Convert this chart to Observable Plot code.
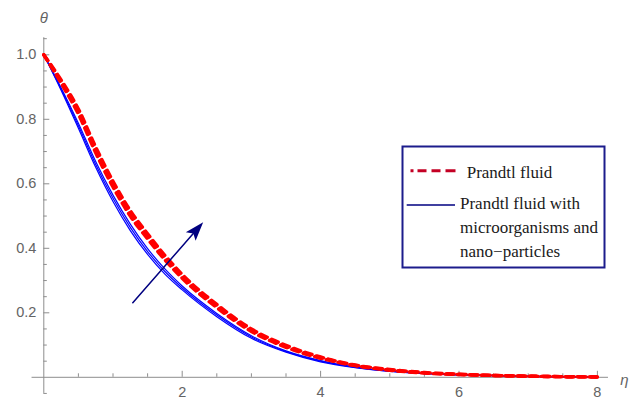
<!DOCTYPE html>
<html><head><meta charset="utf-8">
<script src="https://cdn.jsdelivr.net/npm/d3@7"></script>
<script src="https://cdn.jsdelivr.net/npm/@observablehq/plot@0.6"></script>
<style>
body{margin:0;background:#fff;}
#wrap{position:relative;width:640px;height:407px;overflow:hidden;}
#legend{position:absolute;left:401px;top:145px;}
</style></head><body><div id="wrap"></div>
<script>
// η grid and θ(η) values
const eta = [0, 0.25, 0.5, 0.75, 1, 1.25, 1.5, 1.75, 2, 2.5, 3, 3.5, 4, 4.5, 5, 5.5, 6, 7, 8];
// Prandtl fluid (three red dashed curves)
const prandtlA = [1.0, 0.912, 0.816, 0.696, 0.590, 0.500, 0.429, 0.364, 0.307, 0.216, 0.142, 0.093, 0.059, 0.036, 0.022, 0.013, 0.0085, 0.0035, 0.001];
const prandtlB = [1.0, 0.917, 0.824, 0.705, 0.599, 0.508, 0.437, 0.371, 0.313, 0.221, 0.146, 0.096, 0.061, 0.037, 0.023, 0.014, 0.009, 0.0035, 0.001];
const prandtlC = [1.0, 0.922, 0.832, 0.714, 0.608, 0.517, 0.445, 0.378, 0.319, 0.226, 0.150, 0.099, 0.063, 0.038, 0.024, 0.015, 0.0095, 0.0035, 0.001];
// Prandtl fluid with microorganisms and nano-particles (three blue curves)
const microA = [1.0, 0.890, 0.772, 0.651, 0.545, 0.455, 0.381, 0.320, 0.271, 0.188, 0.121, 0.078, 0.048, 0.030, 0.018, 0.0115, 0.0075, 0.003, 0.001];
const microB = [1.0, 0.894, 0.780, 0.660, 0.555, 0.465, 0.390, 0.328, 0.277, 0.193, 0.125, 0.080, 0.050, 0.031, 0.019, 0.012, 0.008, 0.003, 0.001];
const microC = [1.0, 0.898, 0.788, 0.669, 0.565, 0.475, 0.399, 0.336, 0.283, 0.198, 0.129, 0.082, 0.052, 0.032, 0.020, 0.0125, 0.0085, 0.003, 0.001];

const xMajorTicks = [2, 4, 6, 8];
const xTickLabels = ["2", "4", "6", "8"];
const xMinorTicks = [0.5, 1, 1.5, 2.5, 3, 3.5, 4.5, 5, 5.5, 6.5, 7, 7.5];
const yMajorTicks = [0.2, 0.4, 0.6, 0.8, 1.0];
const yTickLabels = ["0.2", "0.4", "0.6", "0.8", "1.0"];
const yMinorTicks = [-0.05, 0.05, 0.1, 0.15, 0.25, 0.3, 0.35, 0.45, 0.5, 0.55, 0.65, 0.7, 0.75, 0.85, 0.9, 0.95, 1.05];
const xAxisExtent = [-0.17, 8.16];
const yAxisExtent = [-0.05, 1.053];
const arrowFrom = [1.286, 0.231];
const arrowTo = [2.303, 0.481];
const axisLabels = ["η", "θ"];
const legendLabels = ["Prandtl fluid", "Prandtl fluid with", "microorganisms and", "nano\u2212particles"];

const toRows = (name, vals) => vals.map((v, i) => ({series: name, eta: eta[i], theta: v}));
const blueRows = [...toRows("mA", microA), ...toRows("mB", microB), ...toRows("mC", microC)];
const redSets = [toRows("pA", prandtlA), toRows("pB", prandtlB), toRows("pC", prandtlC)];

const headSymbol = {
  draw(ctx) {
    ctx.moveTo(0, 0);
    ctx.lineTo(-19, -6.5);
    ctx.lineTo(-15, 0);
    ctx.lineTo(-19, 6.5);
    ctx.closePath();
  }
};

const axisColor = "#8e8e8e";
const labelColor = "#646464";
const font = "Liberation Sans, Arial, sans-serif";

const plot = Plot.plot({
  width: 640,
  height: 407,
  marginLeft: 43.3,
  marginRight: 43.1,
  marginTop: 54.3,
  marginBottom: 30.2,
  x: {domain: [0, 8], axis: null},
  y: {domain: [0, 1], axis: null},
  style: {fontFamily: font, background: "white"},
  marks: [
    // axes
    Plot.ruleY([0], {y: d => d, x1: () => xAxisExtent[0], x2: () => xAxisExtent[1], stroke: axisColor, strokeWidth: 1}),
    Plot.ruleX([0], {x: d => d, y1: () => yAxisExtent[0], y2: () => yAxisExtent[1], stroke: axisColor, strokeWidth: 1}),
    Plot.ruleX(xMajorTicks, {x: d => d, y1: () => 0, y2: () => 0, insetTop: -6, stroke: axisColor}),
    Plot.ruleX(xMinorTicks, {x: d => d, y1: () => 0, y2: () => 0, insetTop: -3.5, stroke: axisColor}),
    Plot.ruleY(yMajorTicks, {y: d => d, x1: () => 0, x2: () => 0, insetRight: -6, stroke: axisColor}),
    Plot.ruleY(yMinorTicks, {y: d => d, x1: () => 0, x2: () => 0, insetRight: -3.5, stroke: axisColor}),
    Plot.text(xMajorTicks, {x: d => d, y: () => 0, text: (d, i) => xTickLabels[i], dy: 15, fill: labelColor, fontSize: 14.5}),
    Plot.text(yMajorTicks, {x: () => 0, y: d => d, text: (d, i) => yTickLabels[i], dx: -7.5, textAnchor: "end", fill: labelColor, fontSize: 14.5}),
    Plot.text([axisLabels[0]], {x: () => xMajorTicks[xMajorTicks.length - 1], y: () => 0, text: d => d, dx: 27, dy: 3, fill: labelColor, fontSize: 15, fontStyle: "italic"}),
    Plot.text([axisLabels[1]], {x: () => 0, y: () => 1, text: d => d, dy: -36.5, fill: labelColor, fontSize: 15, fontStyle: "italic"}),
    // blue curves
    Plot.line(blueRows, {x: "eta", y: "theta", z: "series", stroke: "#0000ff", strokeWidth: 1.2, curve: "monotone-x"}),
    // red dashed curves
    ...redSets.map((rows) => Plot.line(rows, {x: "eta", y: "theta", stroke: "#ff0000", strokeWidth: 3.4, strokeDasharray: "7,5", curve: "monotone-x"})),
    // arrow
    Plot.arrow([arrowFrom], {x1: d => d[0], y1: d => d[1], x2: () => arrowTo[0], y2: () => arrowTo[1], stroke: "#000080", strokeWidth: 1.5, headLength: 0, insetEnd: 14}),
    Plot.dot([arrowTo], {x: d => d[0], y: d => d[1], symbol: headSymbol, r: 5, fill: "#000080", stroke: "none", rotate: -49})
  ]
});

const wrap = document.getElementById("wrap");
wrap.appendChild(plot);

const leg = document.createElement("div");
leg.id = "legend";
leg.innerHTML = `<svg width="206" height="125" xmlns="http://www.w3.org/2000/svg" style="font-family:'Liberation Serif','Times New Roman',serif;font-size:17px;">
<rect x="1.5" y="1.5" width="202" height="121" fill="white" stroke="#1c1c8c" stroke-width="2"/>
<line x1="9.5" y1="25.7" x2="54.5" y2="25.7" stroke="#c40024" stroke-width="3" stroke-dasharray="3 4 9 5 9 5 10"/>
<text x="65.7" y="33.3" fill="#1a1a1a">${legendLabels[0]}</text>
<line x1="5.7" y1="60" x2="54" y2="60" stroke="#000080" stroke-width="1.6"/>
<text x="59" y="64" fill="#1a1a1a">${legendLabels[1]}</text>
<text x="59" y="87.5" fill="#1a1a1a">${legendLabels[2]}</text>
<text x="59" y="111.5" fill="#1a1a1a">${legendLabels[3]}</text>
</svg>`;
wrap.appendChild(leg);
</script>
</body></html>
